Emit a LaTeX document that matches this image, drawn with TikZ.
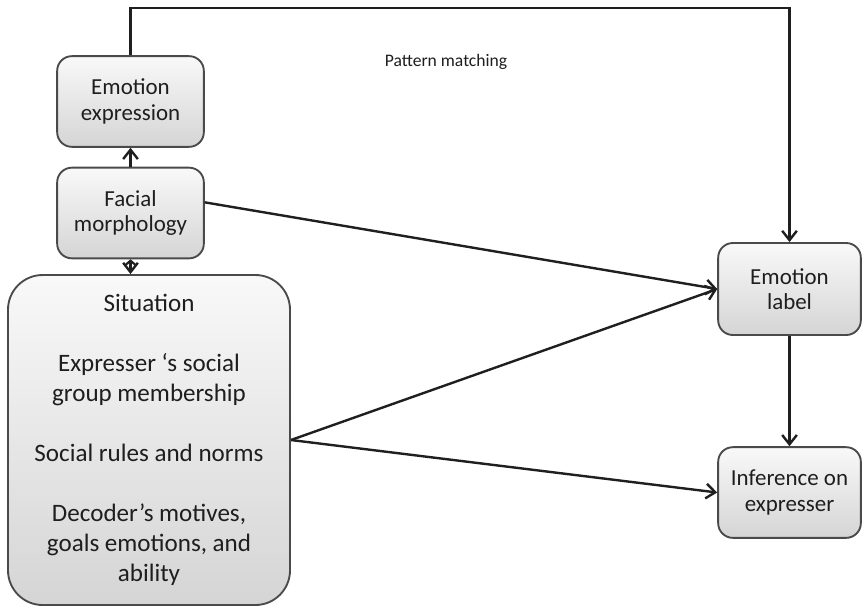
\documentclass[tikz,border=0pt]{standalone}
\usepackage{fontspec}
\setmainfont{Carlito}
\usetikzlibrary{arrows.meta}
\definecolor{boxline}{HTML}{4A4A4A}
\definecolor{inktext}{HTML}{1E1E1E}
\tikzset{
  card/.style={draw=boxline, line width=1.4pt, rounded corners=11pt,
    top color=gray!5, bottom color=gray!33, text=inktext, align=center,
    minimum width=110pt, minimum height=68pt, inner sep=2pt,
    font=\fontsize{17.2}{19}\selectfont},
  bigcard/.style={card, rounded corners=26pt, minimum width=211.5pt,
    minimum height=247.5pt, font=\fontsize{18.8}{22.5}\selectfont},
  flow/.style={draw=black!88, line width=1.8pt, -{Straight Barb[length=7pt,width=11pt,line width=1.8pt]}},
  stub/.style={draw=black!88, line width=1.8pt,
    {Straight Barb[length=3pt,width=7pt,line width=1.6pt]}-{Straight Barb[length=7pt,width=11pt,line width=1.8pt]}}
}
\begin{document}
\begin{tikzpicture}[x=0.75pt,y=-0.75pt]
  \useasboundingbox (0,0) rectangle (862,612);

  % boxes
  \node[card] (ee) at (130.5,101.5) {Emotion\\expression};
  \node[card] (fm) at (130.5,213) {Facial\\morphology};
  \node[bigcard] (sit) at (149,440) {Situation\\[22.5pt]Expresser ‘s social\\group membership\\[22.5pt]Social rules and norms\\[22.5pt]Decoder’s motives,\\goals emotions, and\\ability};
  \node[card, minimum width=107pt, minimum height=69pt] (el) at (789.5,289) {Emotion\\label};
  \node[card, minimum width=107pt, minimum height=68pt] (inf) at (789.5,492.5) {Inference on\\expresser};

  % pattern-matching route over the top
  \coordinate (ridge) at (460,8);
  \draw[flow] (ee.north) |- (ridge) -| (el.north);
  \node[font=\fontsize{13.2}{15}\selectfont, text=inktext] (pm) at (446,62) {Pattern matching};

  % links between the left-hand boxes
  \draw[flow] (fm.north) -- (ee.south);
  \draw[stub] (fm.south) -- (fm.south |- sit.north);

  % links to the right-hand boxes
  \draw[flow] ([yshift=8pt]fm.east) -- (el.west);
  \draw[flow] (sit.east) -- (el.west);
  \draw[flow] (sit.east) -- (inf.west);
  \draw[flow] (el.south) -- (inf.north);
\end{tikzpicture}
\end{document}
